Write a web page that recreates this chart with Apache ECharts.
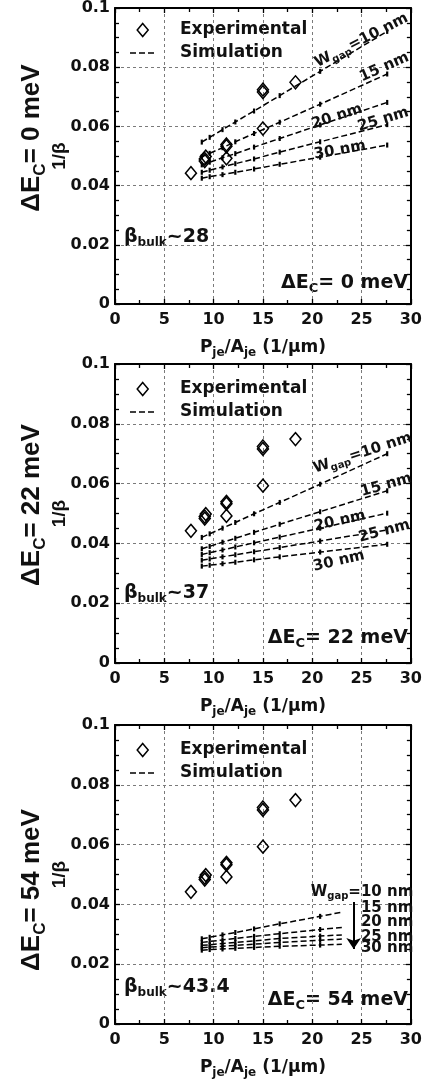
<!DOCTYPE html>
<html><head><meta charset="utf-8">
<script src="https://cdn.jsdelivr.net/npm/echarts@6/dist/echarts.min.js"></script>
<style>html,body{margin:0;padding:0;background:#fff}#c{width:425px;height:1083px}</style>
</head><body><div id="c"></div>
<script>
// ---------- data ----------
const xTickLabels = ['0','5','10','15','20','25','30'];
const yTickLabels = ['0','0.02','0.04','0.06','0.08','0.1'];
const panelNames = ['0 meV','22 meV','54 meV'];
const betaBulk = ['28','37','43.4'];
const gapNames = ['=10 nm','15 nm','20 nm','25 nm','30 nm'];

const expX = [7.7, 9.1, 9.1, 9.2, 11.3, 11.3, 11.3, 15.0, 15.0, 15.0, 18.3];
const expY = [0.0442, 0.0483, 0.0490, 0.0498, 0.0533, 0.0539, 0.0492, 0.0716, 0.0724, 0.0593, 0.0749];

const simX = [8.8, 9.6, 10.9, 12.2, 14.1, 16.7, 20.8, 27.6];
const simX54 = [8.8, 9.6, 10.9, 12.2, 14.1, 16.7, 20.8, 23.0];

const sim0_10 = [0.0547, 0.0563, 0.0589, 0.0615, 0.0652, 0.0704, 0.0786, 0.0921];
const sim0_15 = [0.0497, 0.0509, 0.0528, 0.0548, 0.0576, 0.0614, 0.0675, 0.0777];
const sim0_20 = [0.0470, 0.0479, 0.0494, 0.0508, 0.0530, 0.0559, 0.0605, 0.0681];
const sim0_25 = [0.0445, 0.0452, 0.0463, 0.0474, 0.0490, 0.0513, 0.0548, 0.0606];
const sim0_30 = [0.0425, 0.0430, 0.0437, 0.0445, 0.0456, 0.0472, 0.0496, 0.0537];

const sim22_10 = [0.0420, 0.0432, 0.0451, 0.0470, 0.0499, 0.0537, 0.0598, 0.0700];
const sim22_15 = [0.0382, 0.0390, 0.0404, 0.0417, 0.0437, 0.0464, 0.0506, 0.0576];
const sim22_20 = [0.0363, 0.0369, 0.0378, 0.0388, 0.0402, 0.0421, 0.0451, 0.0501];
const sim22_25 = [0.0344, 0.0348, 0.0355, 0.0362, 0.0372, 0.0386, 0.0408, 0.0445];
const sim22_30 = [0.0324, 0.0327, 0.0332, 0.0337, 0.0345, 0.0355, 0.0371, 0.0397];

const sim54_10 = [0.0285, 0.0290, 0.0298, 0.0306, 0.0318, 0.0335, 0.0360, 0.0374];
const sim54_15 = [0.0273, 0.0276, 0.0281, 0.0286, 0.0293, 0.0302, 0.0316, 0.0323];
const sim54_20 = [0.0263, 0.0265, 0.0269, 0.0273, 0.0278, 0.0286, 0.0294, 0.0298];
const sim54_25 = [0.0255, 0.0257, 0.0260, 0.0263, 0.0267, 0.0273, 0.0280, 0.0284];
const sim54_30 = [0.0247, 0.0249, 0.0251, 0.0253, 0.0256, 0.0260, 0.0264, 0.0267];

// label anchors (data coordinates) for the W_gap annotations
const lbl0X = [25.0, 27.3, 22.5, 27.2, 22.8];
const lbl0Y = [0.0890, 0.0800, 0.0633, 0.0623, 0.0520];
const lbl22X = [25.1, 27.5, 22.8, 27.3, 22.7];
const lbl22Y = [0.0702, 0.0595, 0.0475, 0.0441, 0.0341];
const lbl54X = [30.3, 30.3, 30.3, 30.3, 30.3];
const lbl54Y = [0.0442, 0.0388, 0.0342, 0.0292, 0.0254];
const arrowX = [24.2, 24.2];
const arrowY = [0.0408, 0.0251];

// ---------- layout / style ----------
const F = 'DejaVu Sans';
const A = 'Liberation Sans';
const INK = '#111';
const gridTop = [5, 364, 725];
const GL = 115, GW = 297, GH = 299;
const rot = [[27,24,18,17,10],[18,16,13,15,13],[0,0,0,0,0]];
const titleCY = [138, 505, 890];
const betaRel = [232, 229, 262];
const dERel = [278, 274, 275];

const sims = [
  [sim0_10, sim0_15, sim0_20, sim0_25, sim0_30],
  [sim22_10, sim22_15, sim22_20, sim22_25, sim22_30],
  [sim54_10, sim54_15, sim54_20, sim54_25, sim54_30]
];
const simXs = [simX, simX, simX54];
const lblXs = [lbl0X, lbl22X, lbl54X];
const lblYs = [lbl0Y, lbl22Y, lbl54Y];

const grid = [], xAxis = [], yAxis = [], series = [], graphic = [];

const tickStyle = {color:'#000', width:1.3};
const axisLineStyle = {show:true, onZero:false, lineStyle:{color:'#000', width:2}};
const gridLine = {show:true, lineStyle:{color:'#7a7a7a', type:[3,3], width:1}};

for (let p = 0; p < 3; p++) {
  grid.push({left:GL, top:gridTop[p], width:GW, height:GH});
  xAxis.push({
    gridIndex:p, type:'value', min:0, max:30, interval:5, position:'bottom',
    axisLine:axisLineStyle,
    axisTick:{show:true, inside:true, length:5, lineStyle:tickStyle},
    minorTick:{show:true, splitNumber:2, length:4, lineStyle:tickStyle},
    splitLine:gridLine,
    axisLabel:{margin:8, color:INK, fontFamily:F, fontWeight:'bold', fontSize:16,
      formatter:(v)=>xTickLabels[Math.round(v/5)]},
    name:'P{s|je}/A{s|je} (1/μm)', nameLocation:'middle', nameGap:44, nameMoveOverlap:false,
    nameTextStyle:{color:INK, fontFamily:F, fontWeight:'bold', fontSize:17, verticalAlign:'middle',
      rich:{s:{fontFamily:F, fontWeight:'bold', fontSize:12, color:INK, padding:[10,0,0,0]}}}
  });
  xAxis.push({
    gridIndex:p, type:'value', min:0, max:30, interval:5, position:'top',
    axisLine:axisLineStyle,
    axisTick:{show:true, inside:true, length:5, lineStyle:tickStyle},
    minorTick:{show:true, splitNumber:2, length:4, lineStyle:tickStyle},
    splitLine:{show:false}, axisLabel:{show:false}
  });
  yAxis.push({
    gridIndex:p, type:'value', min:0, max:0.1, interval:0.02, position:'left',
    axisLine:axisLineStyle,
    axisTick:{show:true, inside:true, length:5, lineStyle:tickStyle},
    minorTick:{show:true, splitNumber:4, length:4, lineStyle:tickStyle},
    splitLine:gridLine,
    axisLabel:{margin:5, color:INK, fontFamily:F, fontWeight:'bold', fontSize:16,
      formatter:(v)=>yTickLabels[Math.round(v/0.02)]},
    name:'1/β', nameLocation:'middle', nameGap:55, nameMoveOverlap:false,
    nameTextStyle:{color:INK, fontFamily:A, fontWeight:'bold', fontSize:19, verticalAlign:'middle'}
  });
  yAxis.push({
    gridIndex:p, type:'value', min:0, max:0.1, interval:0.02, position:'right',
    axisLine:axisLineStyle,
    axisTick:{show:true, inside:true, length:5, lineStyle:tickStyle},
    minorTick:{show:true, splitNumber:4, length:4, lineStyle:tickStyle},
    splitLine:{show:false}, axisLabel:{show:false}
  });

  // experimental
  series.push({
    type:'scatter', name:'Experimental', xAxisIndex:2*p, yAxisIndex:2*p,
    data: expX.map((x,i)=>[x, expY[i]]),
    symbol:'diamond', symbolSize:[11,13],
    itemStyle:{color:'rgba(0,0,0,0)', borderColor:'#000', borderWidth:1.5, opacity:1},
    z:5
  });
  // simulations
  sims[p].forEach((arr, k) => {
    series.push({
      type:'line', name:'Simulation', xAxisIndex:2*p, yAxisIndex:2*p,
      data: arr.map((y,i)=> (p===2 && i===arr.length-1) ? {value:[simXs[p][i], y], symbol:'none'} : [simXs[p][i], y]),
      symbol:'rect', symbolSize:[2.2,5], showSymbol:true,
      itemStyle:{color:'#000'},
      lineStyle:{color:'#000', width:1.5, type:[6,3]},
      z:4
    });
  });
  // W_gap annotations
  const mRich = {
    m:{fontFamily:F, fontWeight:'bold', fontSize:15, color:INK, textBorderWidth:0, opacity:1},
    s:{fontFamily:F, fontWeight:'bold', fontSize:10, color:INK, textBorderWidth:0, opacity:1, padding:[10,0,0,0]}
  };
  const labelData = gapNames.map((g,k)=>({
    value:[lblXs[p][k], lblYs[p][k]],
    label:{
      rotate:rot[p][k],
      formatter: k===0 ? '{m|W}{s|gap}{m|' + g + '}' : '{m|' + g + '}',
      position: p===2 ? 'left' : 'inside',
      distance: 0,
      verticalAlign:'middle'
    }
  }));
  const labelSeries = {
    type:'scatter', name:'labels', xAxisIndex:2*p, yAxisIndex:2*p,
    symbol:'circle', symbolSize:1, itemStyle:{color:'rgba(0,0,0,0)', opacity:1},
    clip:false,
    data:labelData, silent:true, z:6,
    label:{show:true, color:INK, opacity:1, textBorderWidth:0, rich:mRich}
  };
  if (p===2) {
    labelSeries.markLine = {
      silent:true, symbol:['none','arrow'], symbolSize:11, animation:false,
      label:{show:false},
      lineStyle:{type:'solid', color:'#000', width:2},
      data:[[{coord:[arrowX[0], arrowY[0]]},{coord:[arrowX[1], arrowY[1]]}]]
    };
  }
  series.push(labelSeries);

  const top = gridTop[p];
  // rotated side title
  graphic.push({
    type:'text', x:32, y:titleCY[p], rotation:Math.PI/2,
    style:{text:'ΔE{s|C}= ' + panelNames[p], fill:INK, fontFamily:A, fontWeight:'bold', fontSize:26,
      align:'center', verticalAlign:'middle',
      rich:{s:{fontFamily:A, fontWeight:'bold', fontSize:17, fill:INK, padding:[16,0,0,0]}}}
  });
  // legend
  const dx = 142.7, dy = top + 25;
  graphic.push({type:'polygon', shape:{points:[[dx,dy-6.5],[dx+5.5,dy],[dx,dy+6.5],[dx-5.5,dy]]},
    style:{fill:'none', stroke:'#000', lineWidth:1.5}});
  graphic.push({type:'text', x:180, y:dy, style:{text:'Experimental', fill:INK, fontFamily:F, fontWeight:'bold', fontSize:17, align:'left', verticalAlign:'middle'}});
  graphic.push({type:'line', shape:{x1:130, y1:top+48, x2:154, y2:top+48},
    style:{stroke:'#000', lineWidth:1.5, lineDash:[6,3]}});
  graphic.push({type:'text', x:180, y:top+48, style:{text:'Simulation', fill:INK, fontFamily:F, fontWeight:'bold', fontSize:17, align:'left', verticalAlign:'middle'}});
  // beta bulk
  graphic.push({type:'text', x:124, y:top + betaRel[p],
    style:{text:'{b|β}{s|bulk}{b|~' + betaBulk[p] + '}', align:'left', verticalAlign:'middle',
      rich:{b:{fontFamily:F, fontWeight:'bold', fontSize:19, fill:INK},
            s:{fontFamily:F, fontWeight:'bold', fontSize:12, fill:INK, padding:[12,0,0,0]}}}});
  // bottom-right ΔE label
  graphic.push({type:'text', x:408, y:top + dERel[p],
    style:{text:'{b|ΔE}{s|C}{b|= ' + panelNames[p] + '}', align:'right', verticalAlign:'middle',
      rich:{b:{fontFamily:F, fontWeight:'bold', fontSize:19, fill:INK},
            s:{fontFamily:F, fontWeight:'bold', fontSize:13, fill:INK, padding:[12,0,0,0]}}}});
}

const chart = echarts.init(document.getElementById('c'), null, {renderer:'canvas'});
chart.setOption({
  animation:false,
  backgroundColor:'#fff',
  grid, xAxis, yAxis, series, graphic
});
</script>
</body></html>
